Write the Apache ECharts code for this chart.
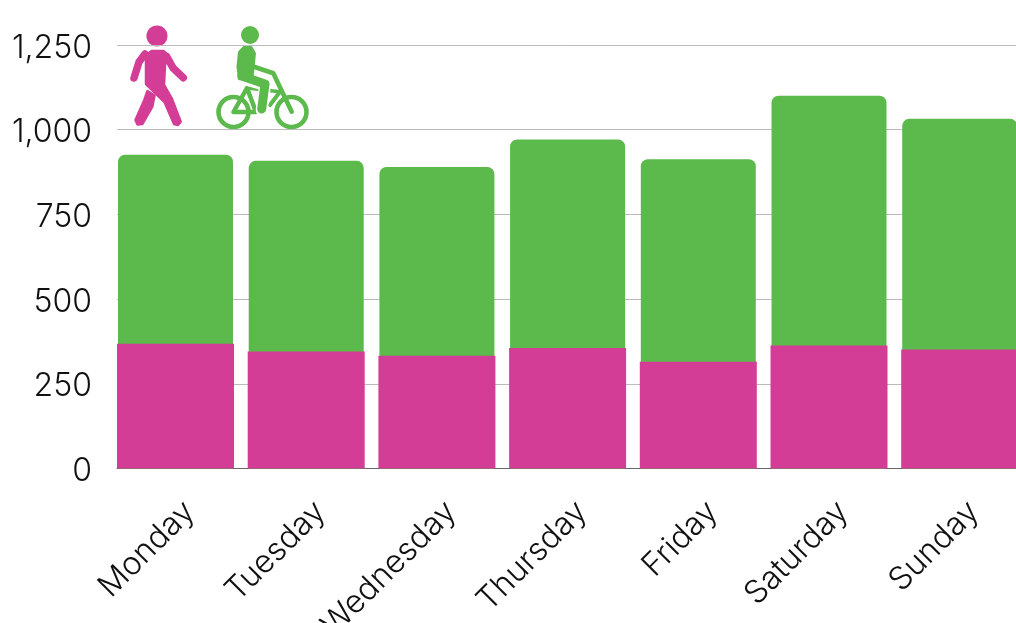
<!DOCTYPE html>
<html>
<head>
<meta charset="utf-8">
<style>
html, body { margin: 0; padding: 0; background: #fff; }
#main { width: 1016px; height: 623px; }
</style>
<script src="https://cdn.jsdelivr.net/npm/echarts@6/dist/echarts.min.js"></script>
</head>
<body>
<div id="main"></div>
<script>
var days = ['Monday', 'Tuesday', 'Wednesday', 'Thursday', 'Friday', 'Saturday', 'Sunday'];
var walking = [368, 345, 333, 356, 315, 363, 351];
var totals = [926, 908, 890, 971, 913, 1100, 1032];

var pink = '#d43d96';
var green = '#5cb94b';
var fontName = 'Inter, sans-serif';

var chart = echarts.init(document.getElementById('main'), null, { renderer: 'canvas' });

// icon parts, pixel positions on the page
function limb(points, width, color) {
    return {
        type: 'polyline',
        shape: { points: points },
        style: { stroke: color, lineWidth: width, fill: null, lineCap: 'round', lineJoin: 'round' }
    };
}
function blob(points, color) {
    return { type: 'polygon', shape: { points: points }, style: { fill: color, stroke: color, lineWidth: 2.5, lineJoin: 'round' } };
}
var walker = [
    { type: 'circle', shape: { cx: 157, cy: 36, r: 10.6 }, style: { fill: pink } },
    blob([[146, 55], [151.7, 51], [163.3, 51], [168.3, 55], [165, 65], [164, 85], [171.7, 98.3], [180.7, 121.7],
        [178, 125], [174, 124], [164.5, 102], [146, 84]], pink),
    blob([[147.5, 91], [154.5, 95.5], [152.3, 106.7], [142.3, 124], [137.5, 124.5], [135.5, 120], [144.3, 100]], pink),
    limb([[145, 54], [139, 62], [134, 78]], 7.5, pink),
    limb([[166.7, 56.7], [173.3, 68.3], [183.3, 77.7]], 7.5, pink)
];
var cyclist = [
    { type: 'circle', shape: { cx: 250, cy: 35, r: 9 }, style: { fill: green } },
    { type: 'circle', shape: { cx: 233.5, cy: 112, r: 15 }, style: { fill: null, stroke: green, lineWidth: 4.6 } },
    { type: 'circle', shape: { cx: 291.5, cy: 112, r: 15 }, style: { fill: null, stroke: green, lineWidth: 4.6 } },
    limb([[233.5, 112], [247, 88], [256, 112], [233.5, 112]], 4.5, green),
    limb([[247, 88], [282, 92]], 3.5, green),
    limb([[270, 105], [280, 91.7]], 4, green),
    limb([[241.7, 78.3], [265, 85], [261.7, 110]], 12, '#fff'),
    limb([[254, 66.7], [273.3, 73.3], [291.7, 111.7]], 4.6, green),
    limb([[241.7, 76], [265, 84], [261.7, 109]], 9, green),
    blob([[244, 47], [251, 47], [254.7, 53.3], [252.3, 77], [239.3, 79], [237.7, 66.7], [239.3, 52]], green)
];

var option = {
    animation: false,
    backgroundColor: '#fff',
    textStyle: { fontFamily: fontName },
    // grid 0 carries the y labels and gridlines, grid 1 the bars (its bands run past the page edge)
    grid: [
        { left: 117, top: 45, width: 899, height: 423.5, outerBoundsMode: 'none' },
        { left: 110.15, top: 45, width: 914.9, height: 423.5, outerBoundsMode: 'none' }
    ],
    xAxis: [
        {
            gridIndex: 0, type: 'category', data: days,
            axisLine: { show: true, lineStyle: { color: '#666', width: 1 } },
            axisTick: { show: false }, axisLabel: { show: false }
        },
        {
            gridIndex: 1, type: 'category', data: days,
            axisLine: { show: false }, axisTick: { show: false },
            axisLabel: {
                rotate: 45, interval: 0, margin: 24, verticalAlign: 'top', lineHeight: 40,
                fontSize: 32, fontWeight: 300, color: '#111', fontFamily: fontName
            }
        },
        {
            gridIndex: 1, type: 'category', data: days, show: false
        }
    ],
    yAxis: [
        {
            gridIndex: 0, type: 'value', min: 0, max: 1250, interval: 250,
            axisLine: { show: false }, axisTick: { show: false },
            axisLabel: {
                margin: 25, verticalAlign: 'top', lineHeight: 6,
                fontSize: 32, fontWeight: 300, color: '#111', fontFamily: fontName
            },
            splitLine: { lineStyle: { color: '#bbb', width: 1 } }
        },
        {
            gridIndex: 1, type: 'value', min: 0, max: 1250, interval: 250, show: false
        }
    ],
    series: [
        {
            name: 'Cycling', type: 'bar', xAxisIndex: 2, yAxisIndex: 1,
            data: totals, barWidth: 115,
            itemStyle: { color: green, borderRadius: [7, 7, 0, 0] }
        },
        {
            name: 'Walking', type: 'bar', xAxisIndex: 1, yAxisIndex: 1,
            data: walking, barWidth: 117,
            itemStyle: { color: pink }
        }
    ],
    graphic: { elements: walker.concat(cyclist) }
};
chart.setOption(option);
</script>
</body>
</html>
